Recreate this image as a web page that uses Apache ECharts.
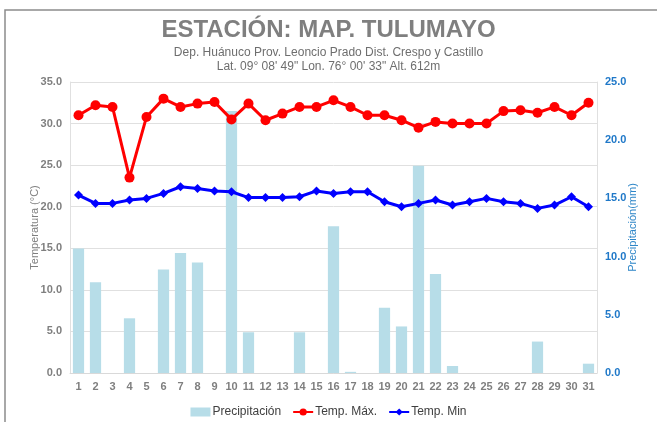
<!DOCTYPE html>
<html>
<head>
    <meta charset="utf-8" />
    <title>Tulumayo</title>
    <script src="https://cdn.jsdelivr.net/npm/echarts@6/dist/echarts.min.js"></script>
</head>
<body style="margin:0">
    <div id="main" style="width:657px;height:422px"></div>
    <script type="text/javascript">

        var days = [];
        for (var d = 1; d <= 31; d++) days.push(String(d));

        var precip = [10.7, 7.8, 0, 4.7, 0, 8.9, 10.3, 9.5, 0, 22.5, 3.5, 0, 0, 3.5, 0, 12.6, 0.1, 0, 5.6, 4.0,
            17.8, 8.5, 0.6, 0, 0, 0, 0, 2.7, 0, 0, 0.8];
        var tMax = [31.0, 32.2, 32.0, 23.5, 30.8, 33.0, 32.0, 32.4, 32.6, 30.5, 32.4, 30.4, 31.2, 32.0, 32.0, 32.8,
            32.0, 31.0, 31.0, 30.4, 29.5, 30.2, 30.0, 30.0, 30.0, 31.5, 31.6, 31.3, 32.0, 31.0, 32.5];
        var tMin = [21.4, 20.4, 20.4, 20.8, 21.0, 21.6, 22.4, 22.2, 21.9, 21.8, 21.1, 21.1, 21.1, 21.2, 21.9, 21.6,
            21.8, 21.8, 20.6, 20.0, 20.4, 20.8, 20.2, 20.6, 21.0, 20.6, 20.4, 19.8, 20.2, 21.2, 20.0];

        var chartDom = document.getElementById('main');
        var myChart = echarts.init(chartDom);
        var font = 'Liberation Sans, Arial, sans-serif';

        var option = {
            animation: false,
            textStyle: { fontFamily: font },
            title: {
                text: 'ESTACIÓN: MAP. TULUMAYO',
                subtext: 'Dep. Huánuco Prov. Leoncio Prado Dist. Crespo y Castillo\nLat. 09° 08\' 49" Lon. 76° 00\' 33" Alt. 612m',
                left: 'center',
                top: 13,
                itemGap: 4,
                textStyle: { fontSize: 24, fontWeight: 'bold', color: '#7f7f7f', fontFamily: font },
                subtextStyle: { fontSize: 12, color: '#6e6e6e', lineHeight: 14, fontFamily: font }
            },
            graphic: [{
                type: 'rect',
                shape: { x: 5, y: 10, width: 700, height: 500 },
                style: { fill: 'none', stroke: '#8c8c8c', lineWidth: 1.5 },
                silent: true
            }],
            legend: {
                bottom: -1,
                left: 'center',
                itemGap: 11,
                itemWidth: 20,
                itemHeight: 9,
                textStyle: { fontSize: 12, color: '#404040', fontFamily: font, padding: [0, 0, 0, -3] },
                data: [
                    { name: 'Precipitación', icon: 'rect', itemStyle: { color: '#b7dde8' } },
                    { name: 'Temp. Máx.' },
                    { name: 'Temp. Min' }
                ]
            },
            grid: { left: 70, right: 60, top: 82, bottom: 49 },
            xAxis: {
                type: 'category',
                data: days,
                axisLine: { lineStyle: { color: '#d9d9d9' } },
                axisTick: { show: false },
                axisLabel: { color: '#7f7f7f', fontWeight: 'bold', fontSize: 11, margin: 8 }
            },
            yAxis: [{
                type: 'value',
                min: 0,
                max: 35,
                interval: 5,
                name: 'Temperatura (°C)',
                nameLocation: 'middle',
                nameGap: 30,
                nameMoveOverlap: false,
                nameTextStyle: { color: '#7f7f7f', fontSize: 11 },
                axisLine: { show: true, lineStyle: { color: '#e0e0e0' } },
                axisLabel: { color: '#7f7f7f', fontWeight: 'bold', fontSize: 11, formatter: function (v) { return v.toFixed(1); } },
                splitLine: { lineStyle: { color: '#e0e0e0' } }
            }, {
                type: 'value',
                min: 0,
                max: 25,
                interval: 5,
                name: 'Precipitación(mm)',
                nameLocation: 'middle',
                nameGap: 30,
                nameMoveOverlap: false,
                nameTextStyle: { color: '#2e86c8', fontSize: 11 },
                axisLine: { show: true, lineStyle: { color: '#e0e0e0' } },
                axisLabel: { color: '#1f78c8', fontWeight: 'bold', fontSize: 11, formatter: function (v) { return v.toFixed(1); } },
                splitLine: { show: false }
            }],
            series: [{
                name: 'Precipitación',
                type: 'bar',
                yAxisIndex: 1,
                barCategoryGap: '34%',
                itemStyle: { color: '#b7dde8' },
                data: precip
            }, {
                name: 'Temp. Máx.',
                type: 'line',
                symbol: 'circle',
                symbolSize: 10,
                lineStyle: { color: '#ff0000', width: 3 },
                itemStyle: { color: '#ff0000' },
                data: tMax
            }, {
                name: 'Temp. Min',
                type: 'line',
                symbol: 'diamond',
                symbolSize: 9,
                lineStyle: { color: '#0000ff', width: 3 },
                itemStyle: { color: '#0000ff' },
                data: tMin
            }]
        };

        option && myChart.setOption(option);

    </script>
</body>
</html>
